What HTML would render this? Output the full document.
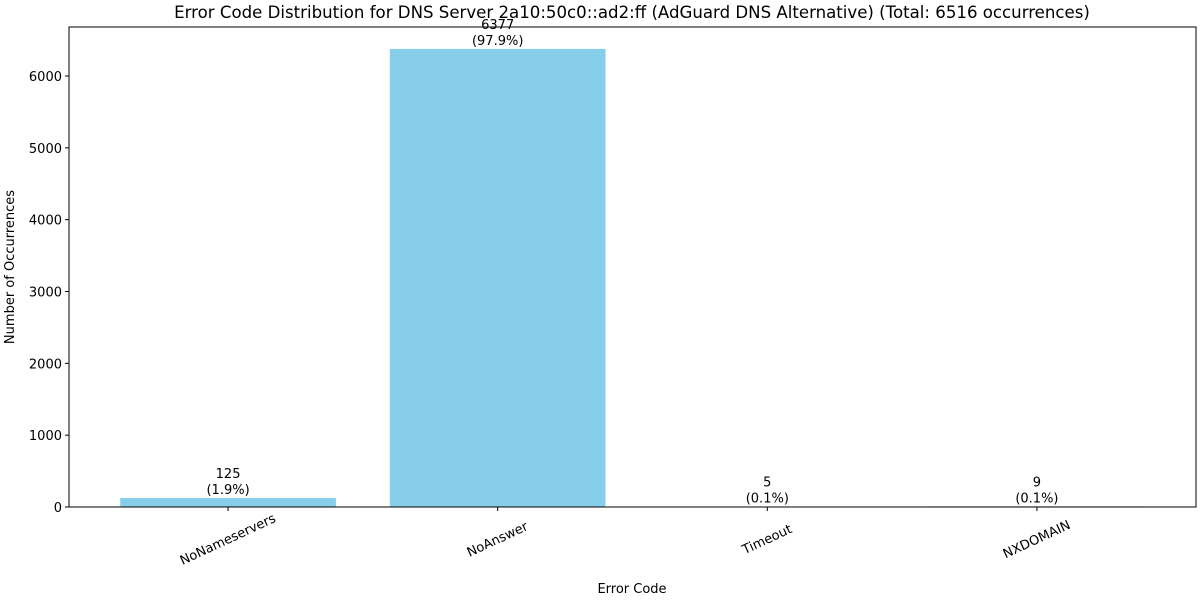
<!DOCTYPE html>
<html><head><meta charset="utf-8"><style>
body{margin:0;background:#fff;font-family:"Liberation Sans","DejaVu Sans",sans-serif;}
text{font-family:"DejaVu Sans","Liberation Sans",sans-serif;}
</style></head><body>
<svg id="chart" width="1200" height="600" xmlns="http://www.w3.org/2000/svg"></svg>
<script>
const categories = ["NoNameservers","NoAnswer","Timeout","NXDOMAIN"];
const counts = [125, 6377, 5, 9];
const pctLabels = ["(1.9%)","(97.9%)","(0.1%)","(0.1%)"];
const yTicks = [0,1000,2000,3000,4000,5000,6000];

const svg = document.getElementById('chart');
const NS = "http://www.w3.org/2000/svg";
const L=69, R=1196, T=27, B=507;
const xMin=-0.59, xMax=categories.length-1+0.59;
const yMax=6000*(B-T)/(B-76);
function x(v){return L+(v-xMin)/(xMax-xMin)*(R-L);}
function y(v){return B-v/yMax*(B-T);}
function mk(tag, attrs, txt){const e=document.createElementNS(NS,tag);for(const k in attrs)e.setAttribute(k,attrs[k]);if(txt!==undefined)e.textContent=txt;svg.appendChild(e);return e;}

let e=mk('text',{x:632,y:18,'text-anchor':'middle','font-size':16.6,fill:'#000'},'Error Code Distribution for DNS Server 2a10:50c0::ad2:ff (AdGuard DNS Alternative) (Total: 6516 occurrences)');



const bw=0.8*(x(1)-x(0));
categories.forEach((c,i)=>{
  const cx=x(i);
  const h=B-y(counts[i]);
  const r=mk('rect',{x:cx-bw/2,y:y(counts[i]),width:bw,height:h,fill:'#87ceeb'});
  
  
  const t1=mk('text',{x:cx,y:y(counts[i])-20,'text-anchor':'middle','font-size':13},String(counts[i]));
  
  
  const t2=mk('text',{x:cx,y:y(counts[i])-4,'text-anchor':'middle','font-size':13},pctLabels[i]);
  
  
  const tk=mk('line',{x1:cx,x2:cx,y1:B,y2:B+4,stroke:'#000'});
  
  
  const tl=mk('text',{x:0,y:0,'text-anchor':'middle','dominant-baseline':'central','font-size':13,transform:`translate(${cx},${B+33}) rotate(-25)`},c);
  
  
});
yTicks.forEach(v=>{
  const tk=mk('line',{x1:L-4,x2:L,y1:y(v),y2:y(v),stroke:'#000'});
  
  
  const tl=mk('text',{x:L-7,y:y(v)+5,'text-anchor':'end','font-size':13},String(v));
  
  
});
const fr=mk('rect',{x:L,y:T,width:R-L,height:B-T,fill:'none',stroke:'#000','stroke-width':1});


const xt=mk('text',{x:632,y:593,'text-anchor':'middle','font-size':13},'Error Code');


const yt=mk('text',{x:0,y:0,'text-anchor':'middle','font-size':13,transform:`translate(14,${(T+B)/2}) rotate(-90)`},'Number of Occurrences');


</script>
</body></html>
